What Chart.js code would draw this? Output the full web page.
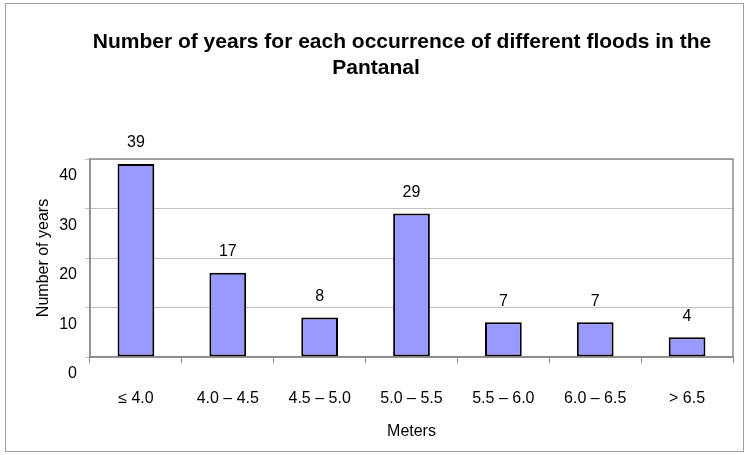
<!DOCTYPE html>
<html>
<head>
<meta charset="utf-8">
<script src="https://cdn.jsdelivr.net/npm/chart.js@4.4.1/dist/chart.umd.min.js"></script>
<style>
  html, body { margin: 0; padding: 0; background: #fff; }
  #floods { display: block; }
</style>
</head>
<body>
<canvas id="floods" width="749" height="455"></canvas>
<script>
const categories = ['≤ 4.0', '4.0 – 4.5', '4.5 – 5.0', '5.0 – 5.5', '5.5 – 6.0', '6.0 – 6.5', '> 6.5'];
const years = [39, 17, 8, 29, 7, 7, 4];
const titleLines = ['Number of years for each occurrence of different floods in the', 'Pantanal'];
const xTitle = 'Meters';
const yTitle = 'Number of years';

const FONT = "'Liberation Sans', Arial, sans-serif";

// frame round the whole picture + title lines (excel style, 2nd line sits a bit left)
const frameAndTitle = {
  id: 'frameAndTitle',
  beforeDraw(chart) {
    const ctx = chart.ctx;
    ctx.save();
    ctx.strokeStyle = '#a0a0a0';
    ctx.lineWidth = 1;
    ctx.strokeRect(5.5, 3.5, 738, 448);
    ctx.fillStyle = '#000';
    ctx.font = 'bold 21px ' + FONT;
    ctx.textAlign = 'center';
    ctx.textBaseline = 'middle';
    ctx.fillText(titleLines[0], 402, 42);
    ctx.fillText(titleLines[1], 376, 68);
    ctx.restore();
  }
};

// grey box round the plot area
const plotBox = {
  id: 'plotBox',
  afterDatasetsDraw(chart) {
    const {ctx, chartArea: a} = chart;
    ctx.save();
    ctx.strokeStyle = '#8c8c8c';
    ctx.lineWidth = 1.5;
    ctx.strokeRect(a.left, a.top, a.right - a.left, a.bottom - a.top);
    ctx.restore();
  }
};

// value labels above the bars
const valueLabels = {
  id: 'valueLabels',
  afterDraw(chart) {
    const ctx = chart.ctx;
    const meta = chart.getDatasetMeta(0);
    ctx.save();
    ctx.fillStyle = '#000';
    ctx.font = '16px ' + FONT;
    ctx.textAlign = 'center';
    ctx.textBaseline = 'middle';
    meta.data.forEach((bar, i) => {
      ctx.fillText(String(years[i]), bar.x, bar.y - 21);
    });
    ctx.restore();
  }
};

new Chart(document.getElementById('floods').getContext('2d'), {
  type: 'bar',
  data: {
    labels: categories,
    datasets: [{
      data: years,
      backgroundColor: '#9999ff',
      borderColor: '#000000',
      borderWidth: 2,
      borderSkipped: false,
      barPercentage: 0.4,
      categoryPercentage: 1
    }]
  },
  options: {
    responsive: false,
    animation: false,
    layout: { padding: { left: 30, top: 159, right: 16, bottom: 10 } },
    plugins: {
      legend: { display: false },
      title: { display: false },
      tooltip: { enabled: false }
    },
    scales: {
      x: {
        afterFit: s => { s.height = 88; },
        grid: { offset: true, drawOnChartArea: false, tickLength: 6, color: '#8c8c8c' },
        border: { color: '#8c8c8c', width: 1.5 },
        ticks: { color: '#000', padding: 26, font: { family: FONT, size: 16 } },
        title: { display: true, text: xTitle, color: '#000', font: { family: FONT, size: 16 } }
      },
      y: {
        min: 0,
        max: 40,
        afterFit: s => { s.width = 60; },
        grid: { color: '#c0c0c0', tickLength: 5 },
        border: { color: '#8c8c8c', width: 1.5 },
        ticks: { stepSize: 10, color: '#000', padding: 8, labelOffset: 17, font: { family: FONT, size: 16 } },
        title: { display: true, text: yTitle, color: '#000', font: { family: FONT, size: 16 } }
      }
    }
  },
  plugins: [frameAndTitle, plotBox, valueLabels]
});
</script>
</body>
</html>
